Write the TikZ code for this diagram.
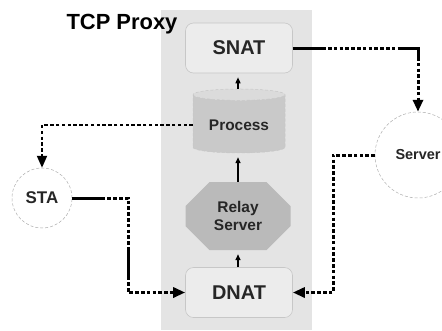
\documentclass[tikz,border=0pt]{standalone}
\usepackage{fontspec}
\setmainfont{Liberation Sans}
\usetikzlibrary{arrows.meta,shapes.geometric,shapes.misc}

\definecolor{bggray}{gray}{0.895}
\definecolor{natfill}{gray}{0.925}
\definecolor{boxline}{gray}{0.78}
\definecolor{procbody}{gray}{0.79}
\definecolor{proctop}{gray}{0.86}
\definecolor{relayfill}{gray}{0.73}
\definecolor{hostline}{gray}{0.68}

\tikzset{
	dashdots/.style={dash pattern=on 33bp off 2.2bp on 3.6bp off 2.2bp on 3.6bp off 2.2bp
		on 3.6bp off 2.2bp on 3.6bp off 2.2bp on 3.6bp off 2.2bp on 3.6bp off 2.2bp
		on 3.6bp off 2.2bp on 3.6bp off 2.2bp on 3.6bp off 2.2bp on 3.6bp off 2.2bp
		on 3.6bp off 2.2bp on 3.6bp off 2.2bp},
	bigtip/.style={-{Triangle[length=12bp,width=10bp]}},
}

\begin{document}
\begin{tikzpicture}[x=1bp,y=-1bp,
		every node/.style={font=\bfseries,text=black!85,align=center},
		natbox/.style={rectangle,rounded corners=8bp,draw=boxline,fill=natfill,
			line width=0.6bp,minimum width=107bp,minimum height=50bp,
			font=\bfseries\fontsize{20}{22}\selectfont},
		host/.style={circle,draw=hostline,densely dashed,fill=white,line width=0.5bp},
		up/.style={-{Triangle[length=6bp,width=5bp]},line width=1.4bp,shorten >=4bp},
		heavy/.style={bigtip,line width=3bp,dashdots},
		dotline/.style={bigtip,line width=3bp,dash pattern=on 3.6bp off 2.2bp}]
		\useasboundingbox (0,0) rectangle (442,330);

		% Proxy area
		\fill[bggray] (161,10) rectangle (312,330);
		\node[font=\bfseries\fontsize{22}{24}\selectfont,text=black] (title) at (122,24) {TCP Proxy};

		% Stages inside the proxy
		\node[natbox] (snat) at (239,48) {SNAT};
		\node[cylinder,shape border rotate=90,aspect=0.17,
			minimum width=92bp,minimum height=64bp,
			cylinder uses custom fill,cylinder body fill=procbody,cylinder end fill=proctop,
			draw=boxline,densely dashed,line width=0.5bp,
			font=\bfseries\fontsize{15.5}{17}\selectfont] (proc) at (239,125) {\raisebox{-5bp}{Process}};
		\node[chamfered rectangle,chamfered rectangle xsep=12bp,chamfered rectangle ysep=12bp,
			fill=relayfill,minimum width=105bp,minimum height=68bp,inner sep=0pt,
			font=\bfseries\fontsize{15.5}{18}\selectfont] (relay) at (238,216) {Relay\\Server};
		\node[natbox] (dnat) at (239,292.5) {DNAT};

		% End hosts
		\node[host,minimum size=60bp,font=\bfseries\fontsize{17}{19}\selectfont] (sta) at (42,198) {STA};
		\node[host,minimum size=86bp,font=\bfseries\fontsize{14.5}{16}\selectfont] (server) at (418,155) {Server};

		% Flow through the proxy
		\foreach \a/\b in {dnat/relay,relay/proc,proc/snat} {
			\draw[up] (\a.north -| 238,0) -- (\b.south -| 238,0);
		}

		% Paths to and from the hosts
		\coordinate (stabend) at (128,198);
		\coordinate (srvbend) at (333,155);
		\draw[heavy] (snat.east) -| (server.north);
		\draw[bigtip,line width=2bp,dash pattern=on 3.4bp off 2.4bp] (proc.west) -| (sta.north);
		\draw[heavy] (sta.east) -- (stabend) |- (dnat.west);
		\draw[dotline] (server.west) -- (srvbend) |- (dnat.east);
	\end{tikzpicture}
\end{document}
